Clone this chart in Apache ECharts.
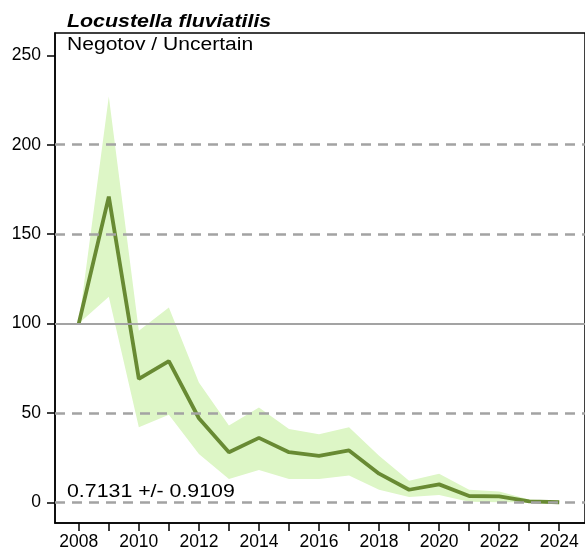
<!DOCTYPE html>
<html><head><meta charset="utf-8">
<script src="https://cdn.jsdelivr.net/npm/echarts@6/dist/echarts.min.js"></script>
<style>html,body{margin:0;padding:0;background:#fff}#c{width:585px;height:553px}</style>
</head><body><div id="c"></div>
<script>
var years = [2008,2009,2010,2011,2012,2013,2014,2015,2016,2017,2018,2019,2020,2021,2022,2023,2024];
var indexValues = [100,171,69,79,47,28,36,28,26,29,16,7,10,3.5,3.3,0.5,0];
var upperValues = [100,227,96,109,67,43,53,41,38,42,26,12,16,7,6,1.5,0.5];
var lowerValues = [100,115,42,49,27,13,18,13,13,15,7,3,4,0.3,0,0,0];
var yTicks = [0,50,100,150,200,250];
var xLabelYears = [2008,2010,2012,2014,2016,2018,2020,2022,2024];
var dashedLevels = [0,50,150,200];
var solidLevels = [100];
var titleText = 'Locustella fluviatilis';
var subtitleText = 'Negotov / Uncertain';
var trendText = '0.7131 +/- 0.9109';

var chart = echarts.init(document.getElementById('c'), null, {renderer:'canvas'});
var font = 'Liberation Sans, Arial, sans-serif';
var markData = [];
dashedLevels.forEach(function(v){ markData.push({yAxis:v, lineStyle:{type:[10,7], color:'#a3a3a3', width:2.5}}); });
solidLevels.forEach(function(v){ markData.push({yAxis:v, lineStyle:{type:'solid', color:'#a3a3a3', width:2}}); });

function label(text, x, y, f, sx){
  return {type:'text', x:x, y:y, scaleX:sx, scaleY:1, z:100, silent:true,
    style:{text:text, font:f, fill:'#000', align:'left', verticalAlign:'middle'}};
}

chart.setOption({
  animation:false,
  graphic:[
    label(titleText, 67, 21.5, 'italic bold 18.5px ' + font, 1.155),
    label(subtitleText, 67, 45, '18px ' + font, 1.17),
    label(trendText, 67, 492.5, '18px ' + font, 1.185)
  ],
  grid:{left:55, right:-5, top:33, bottom:30, show:true, borderColor:'#000', borderWidth:1.5, backgroundColor:'transparent', containLabel:false},
  xAxis:{type:'value', min:2007.208, max:2024.858,
    axisLine:{show:true, onZero:false, lineStyle:{color:'#000', width:1.5}},
    axisTick:{show:true, length:8, lineStyle:{color:'#000', width:1.5}, customValues:years},
    axisLabel:{customValues:xLabelYears, margin:10, fontFamily:font, fontSize:17.5, color:'#000', formatter:function(v){return String(v);}},
    splitLine:{show:false}},
  yAxis:{type:'value', min:-11.6, max:262.5,
    axisLine:{show:true, onZero:false, lineStyle:{color:'#000', width:1.5}},
    axisTick:{show:true, length:8, lineStyle:{color:'#000', width:1.5}, customValues:yTicks},
    axisLabel:{customValues:yTicks, margin:14, fontFamily:font, fontSize:17.5, color:'#000'},
    splitLine:{show:false}},
  series:[
    {type:'custom', z:1, silent:true, clip:true,
     data: years.map(function(y,i){return [y, lowerValues[i], upperValues[i]];}),
     renderItem:function(params, api){
       if (params.dataIndex !== 0) return null;
       var pts = [];
       for (var i=0;i<years.length;i++) pts.push(api.coord([years[i], upperValues[i]]));
       for (var j=years.length-1;j>=0;j--) pts.push(api.coord([years[j], lowerValues[j]]));
       return {type:'polygon', shape:{points:pts}, style:{fill:'#ddf6c6', stroke:null}};
     }},
    {type:'line', z:2, data:[], silent:true, symbol:'none',
     markLine:{silent:true, symbol:'none', label:{show:false}, data:markData}},
    {type:'line', z:3, symbol:'none', silent:true,
     data: years.map(function(y,i){return [y, indexValues[i]];}),
     lineStyle:{color:'#688a33', width:3.8}}
  ]
});
</script></body></html>
